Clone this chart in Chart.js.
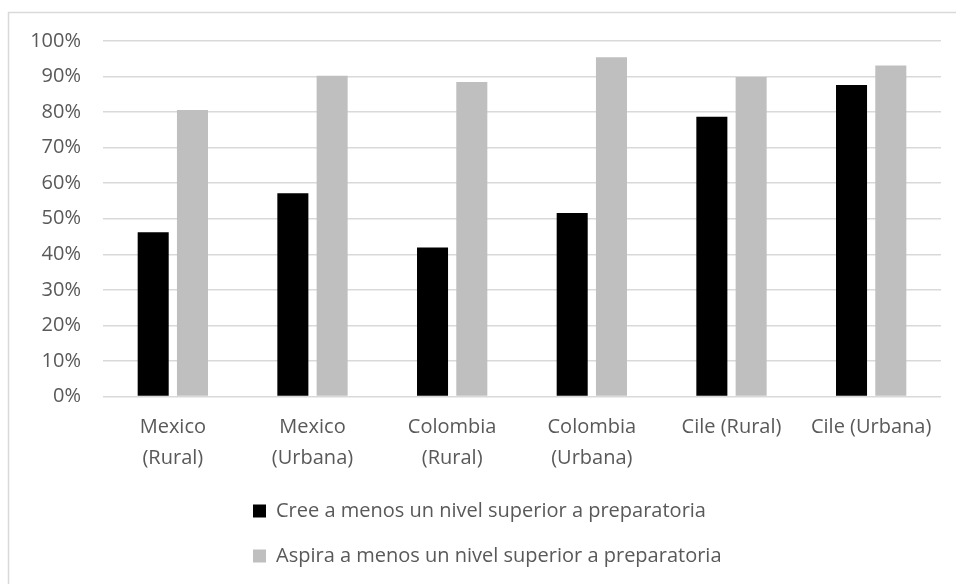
<!DOCTYPE html>
<html>
<head>
<meta charset="utf-8">
<script src="https://cdn.jsdelivr.net/npm/chart.js@4/dist/chart.umd.min.js"></script>
<style>
  html, body { margin: 0; padding: 0; background: #ffffff; }
  #wrap { position: relative; width: 956px; height: 584px; }
</style>
</head>
<body>
<div id="wrap"><canvas id="c" width="956" height="584"></canvas></div>
<script>
const categories = [
  ["Mexico", "(Rural)"],
  ["Mexico", "(Urbana)"],
  ["Colombia", "(Rural)"],
  ["Colombia", "(Urbana)"],
  "Cile (Rural)",
  "Cile (Urbana)"
];
const seriesNames = [
  "Cree a menos un nivel superior a preparatoria",
  "Aspira a menos un nivel superior a preparatoria"
];
const creeValues = [46.2, 57.2, 41.9, 51.6, 78.7, 87.6];
const aspiraValues = [80.6, 90.2, 88.5, 95.4, 89.9, 93.1];
const yTickMin = 0;
const yTickMax = 100;
const yTickStep = 10;

const textColor = '#595959';
const fontFamily = '"Open Sans", "Liberation Sans", sans-serif';

const framePlugin = {
  id: 'frame',
  beforeDraw(chart) {
    const ctx = chart.ctx;
    ctx.save();
    ctx.fillStyle = '#ffffff';
    ctx.fillRect(0, 0, chart.width, chart.height);
    ctx.strokeStyle = '#d9d9d9';
    ctx.lineWidth = 1.5;
    ctx.strokeRect(8.5, 12.5, chart.width + 10, chart.height + 10);
    ctx.restore();
  }
};

const legendShift = {
  id: 'legendShift',
  afterLayout(chart) {
    const l = chart.legend;
    if (!l) return;
    const w = l.right - l.left;
    l.left = 228;
    l.right = l.left + w;
  }
};

new Chart(document.getElementById('c'), {
  type: 'bar',
  data: {
    labels: categories,
    datasets: [
      {
        label: seriesNames[0],
        data: creeValues,
        backgroundColor: '#000000',
        categoryPercentage: 0.5625,
        barPercentage: 0.79
      },
      {
        label: seriesNames[1],
        data: aspiraValues,
        backgroundColor: '#bfbfbf',
        categoryPercentage: 0.5625,
        barPercentage: 0.79
      }
    ]
  },
  options: {
    responsive: false,
    animation: false,
    layout: { padding: { top: 41, right: 15, bottom: 8, left: 0 } },
    plugins: {
      tooltip: { enabled: false },
      legend: {
        position: 'bottom',
        align: 'start',
        labels: {
          boxWidth: 13,
          boxHeight: 13,
          padding: 25,
          color: textColor,
          font: { family: fontFamily, size: 20, lineHeight: 1.2 }
        }
      }
    },
    scales: {
      x: {
        grid: { display: false, drawTicks: false },
        border: { display: false },
        ticks: {
          color: textColor,
          padding: 15,
          maxRotation: 0,
          autoSkip: false,
          font: { family: fontFamily, size: 20, lineHeight: 1.55 }
        },
        afterFit(scale) { scale.height = 79.5; }
      },
      y: {
        min: yTickMin,
        max: yTickMax,
        grid: { color: '#d9d9d9', lineWidth: 1.5, drawTicks: false },
        border: { display: false },
        ticks: {
          stepSize: yTickStep,
          color: textColor,
          padding: 22,
          font: { family: fontFamily, size: 20 },
          callback: (v) => v + '%'
        },
        afterFit(scale) { scale.width = 103; }
      }
    }
  },
  plugins: [framePlugin, legendShift]
});
</script>
</body>
</html>
